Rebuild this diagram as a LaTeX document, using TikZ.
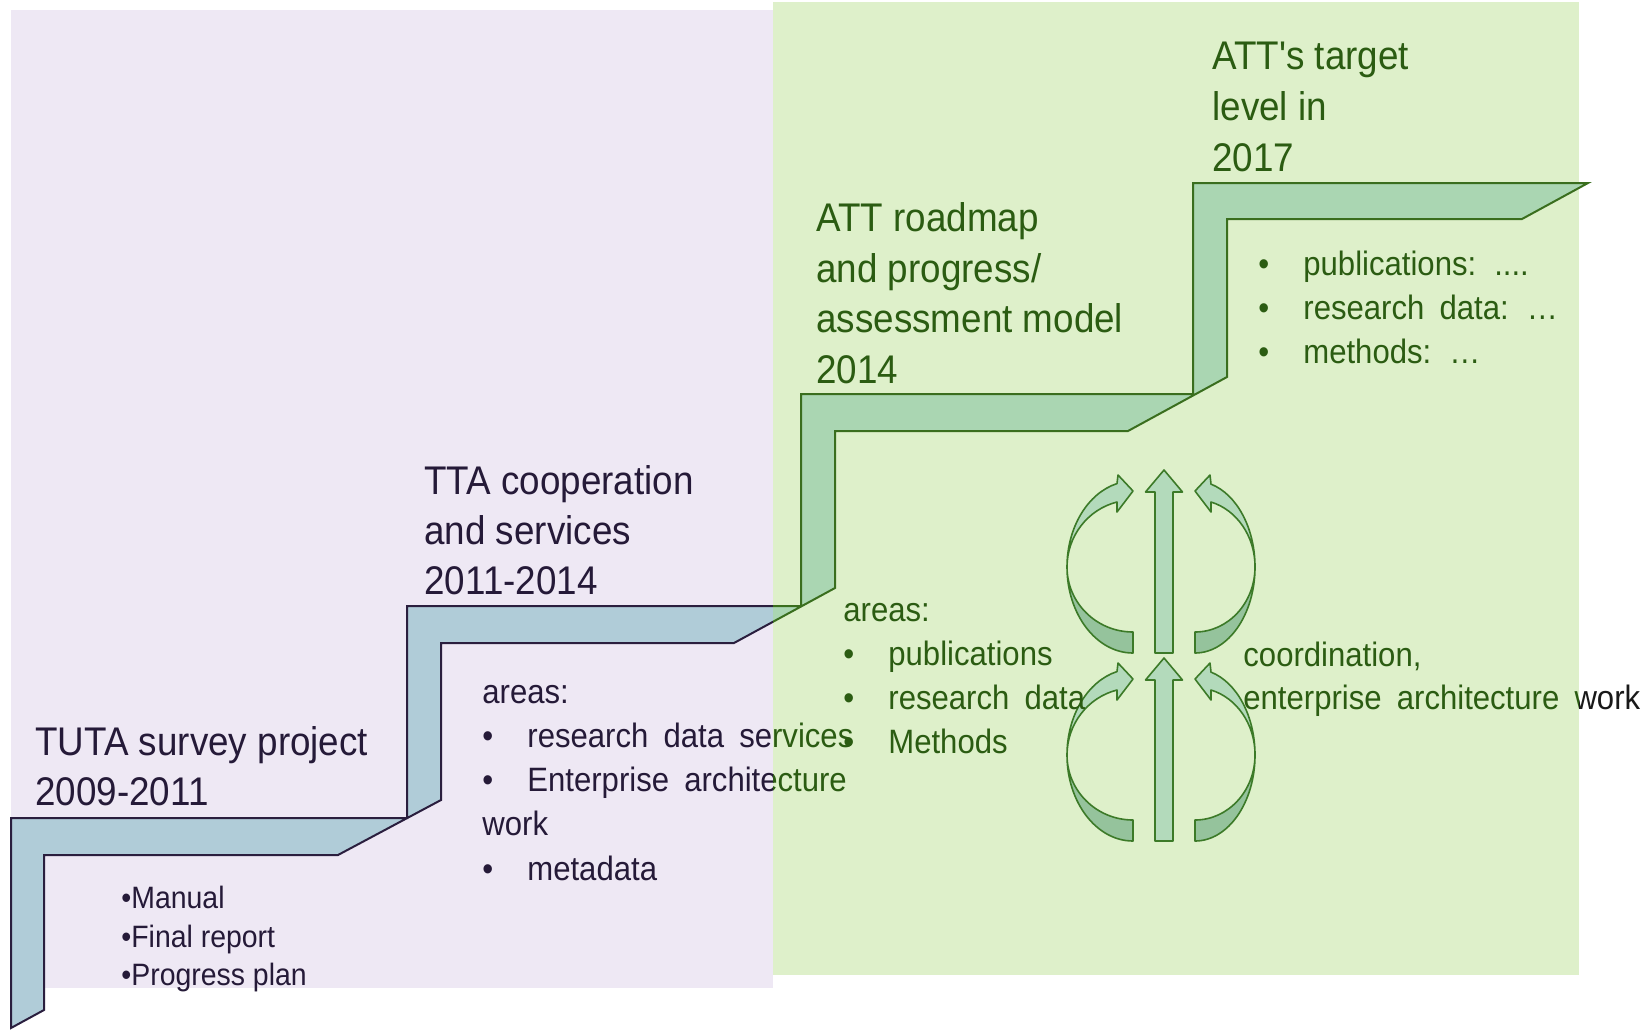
\documentclass[tikz,border=0pt]{standalone}
\usepackage{fontspec}
\setmainfont{Liberation Sans}[FakeStretch=0.92]
\newfontfamily\nomapfont{Liberation Sans}[FakeStretch=0.92]
\definecolor{bgpurple}{HTML}{EEE8F4}
\definecolor{bggreen}{HTML}{DEF0CA}
\definecolor{ribblue}{HTML}{B0CCD8}
\definecolor{ribgreen}{HTML}{AAD6B2}
\definecolor{linepurple}{HTML}{2A1E3E}
\definecolor{linegreen}{HTML}{3A6E1E}
\definecolor{txtpurple}{HTML}{251A38}
\definecolor{txtgreen}{HTML}{2B5C12}
\definecolor{arrlight}{HTML}{B3DABB}
\definecolor{arrdark}{HTML}{95C39C}
\definecolor{arrline}{HTML}{3C7A28}
\newcommand\bul{\makebox[22.5pt][l]{•}}
\newcommand\widesp{\spaceskip=0.45em\relax}
\newcommand\halfcycpath[1]{%
  \pgfmathsetmacro\hang{180+acos(16/#1)}%
  \filldraw[arrstroke, fill=arrdark] (0,86) arc[start angle=90,end angle=180,x radius=#1,y radius=86]
     arc[start angle=180,end angle=90,x radius=#1,y radius=65] -- cycle;
  \filldraw[arrstroke, fill=arrlight] (-#1,0) arc[start angle=180,end angle=\hang,x radius=#1,y radius=86]
     -- (-15,-92) -- (0,-76) -- (-16,-55) -- (-16,-65)
     arc[start angle=\hang,end angle=180,x radius=#1,y radius=67] -- cycle;
}
\newcommand\ribbonpath{(11,1028) -- (11,818) -- (407,818) -- (407,606) -- (801,606) -- (801,394) -- (1193,394) -- (1193,183) -- (1588,183) -- (1522,219) -- (1227,219) -- (1227,377) -- (1128,431) -- (835,431) -- (835,588) -- (734,643) -- (441,643) -- (441,800) -- (338,855) -- (44,855) -- (44,1010) -- cycle}
\tikzset{
  arrstroke/.style={draw=arrline, line width=0.8pt, line join=round},
  ttl/.style={font=\fontsize{20}{25}\selectfont, inner sep=0pt, anchor=base west},
  lst/.style={font=\fontsize{16.9}{22}\selectfont, inner sep=0pt, anchor=base west, execute at begin node=\widesp},
  sml/.style={font=\fontsize{15.45}{19}\selectfont, inner sep=0pt, anchor=base west},
  pt/.style={text=txtpurple},
  gt/.style={text=txtgreen},
  pics/cycgroup/.style={code={
    \begin{scope}[shift={(-31,0)}]\halfcycpath{66}\end{scope}
    \begin{scope}[shift={(31,0)},xscale=-1]\halfcycpath{60}\end{scope}
    \filldraw[arrstroke, fill=arrlight] (-9,86) -- (-9,-75) -- (-18.5,-75) -- (0,-97) -- (18.5,-75) -- (9,-75) -- (9,86) -- cycle;
  }}
}
\begin{document}
\begin{tikzpicture}[x=0.5pt,y=-0.5pt]
\useasboundingbox (0,0) rectangle (1649,1029);
\fill[white] (0,0) rectangle (1649,1029);
% backgrounds
\fill[bgpurple] (10.5,9.5) rectangle (773,988);
\fill[bggreen] (773,2) rectangle (1579,975);
% staircase ribbon
\begin{scope}
  \clip (0,0) rectangle (773,1029);
  \filldraw[fill=ribblue, draw=linepurple, line width=1pt, line join=miter] \ribbonpath;
\end{scope}
\begin{scope}
  \clip (773,0) rectangle (1649,1029);
  \filldraw[fill=ribgreen, draw=linegreen, line width=1pt, line join=miter] \ribbonpath;
\end{scope}
% cycle arrows
\pic at (1164,567) {cycgroup};
\pic at (1164,755) {cycgroup};
% step 1
\node[ttl,pt] (t1a) at (35,755) {TUTA survey project};
\node[ttl,pt] (t1b) at (35,805) {2009-2011};
\node[sml,pt] (m1) at (121,908) {•Manual};
\node[sml,pt] (m2) at (121,947) {•Final report};
\node[sml,pt] (m3) at (121,985) {•Progress plan};
% step 2
\node[ttl,pt] (t2a) at (424,494) {TTA cooperation};
\node[ttl,pt] (t2b) at (424,544) {and services};
\node[ttl,pt] (t2c) at (424,594) {2011-2014};
\node[lst,pt] (a1) at (482,703) {areas:};
\begin{scope}
  \clip (0,0) rectangle (773,1029);
  \node[lst,pt] (a2) at (482,747) {\bul research data services};
  \node[lst,pt] (a3) at (482,791) {\bul Enterprise architecture};
\end{scope}
\begin{scope}
  \clip (773,0) rectangle (1649,1029);
  \node[lst,gt] (a2g) at (482,747) {\bul research data services};
  \node[lst,gt] (a3g) at (482,791) {\bul Enterprise architecture};
\end{scope}
\node[lst,pt] (a4) at (482,835) {work};
\node[lst,pt] (a5) at (482,880) {\bul metadata};
% step 3
\node[ttl,gt] (t3a) at (816,231) {ATT roadmap};
\node[ttl,gt] (t3b) at (816,282) {and progress/};
\node[ttl,gt] (t3c) at (816,332) {assessment model};
\node[ttl,gt] (t3d) at (816,383) {2014};
\node[lst,gt] (g1) at (843,621) {areas:};
\node[lst,gt] (g2) at (843,665) {\bul publications};
\node[lst,gt] (g3) at (843,709) {\bul research data};
\node[lst,gt] (g4) at (843,753) {\bul Methods};
% step 4
\node[ttl,gt] (t4a) at (1212,69) {\nomapfont ATT's target};
\node[ttl,gt] (t4b) at (1212,120) {level in};
\node[ttl,gt] (t4c) at (1212,171) {2017};
\node[lst,gt] (p1) at (1258,275) {\bul publications: ....};
\node[lst,gt] (p2) at (1258,319) {\bul research data: …};
\node[lst,gt] (p3) at (1258,363) {\bul methods: …};
% coordination
\node[lst,gt] (c1) at (1243,666) {coordination,};
\begin{scope}
  \clip (0,0) rectangle (1579,1029);
  \node[lst,gt] (c2) at (1243,709) {enterprise architecture work};
\end{scope}
\begin{scope}
  \clip (1579,0) rectangle (1649,1029);
  \node[lst,text=black!90] (c2k) at (1243,709) {enterprise architecture work};
\end{scope}
\end{tikzpicture}
\end{document}
